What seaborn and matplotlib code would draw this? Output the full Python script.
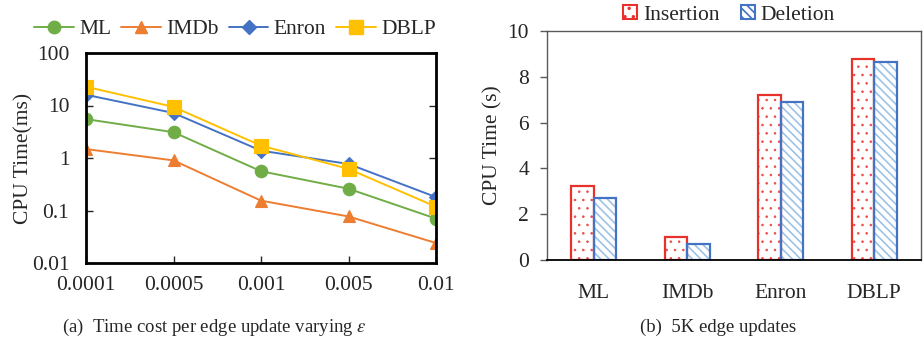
import numpy as np
import pandas as pd
import matplotlib
matplotlib.use("Agg")
import matplotlib.pyplot as plt
from matplotlib.patches import Patch
from matplotlib.lines import Line2D
import seaborn as sns

# ---- data ----
eps_labels = ["0.0001", "0.0005", "0.001", "0.005", "0.01"]
datasets = ["ML", "IMDb", "Enron", "DBLP"]
ml_ms = [5.5, 3.1, 0.56, 0.26, 0.07]
imdb_ms = [1.48, 0.9, 0.154, 0.077, 0.024]
enron_ms = [16.0, 7.2, 1.38, 0.77, 0.18]
dblp_ms = [22.8, 9.4, 1.72, 0.62, 0.118]

insertion_s = [3.21, 1.0, 7.21, 8.77]
deletion_s = [2.7, 0.72, 6.92, 8.66]
ops = ["Insertion", "Deletion"]

line_colors = ["#70AD47", "#ED7D31", "#4472C4", "#FFC000"]
markers = ["o", "^", "D", "s"]
msizes = [9, 9, 7, 9.5]

sns.set_theme(style="white")
plt.rcParams["font.family"] = ["Liberation Serif", "DejaVu Serif"]
plt.rcParams["mathtext.fontset"] = "stix"
FS = 15.5

fig = plt.figure(figsize=(9.23, 3.44), dpi=100)
ax1 = fig.add_axes([86 / 923, 1 - 263 / 344, 350 / 923, 210 / 344])
ax2 = fig.add_axes([547 / 923, 1 - 260 / 344, 374 / 923, 229 / 344])

# ---- left: line chart ----
series = [ml_ms, imdb_ms, enron_ms, dblp_ms]
df1 = pd.DataFrame({
    "eps": eps_labels * len(datasets),
    "time": np.concatenate(series),
    "dataset": np.repeat(datasets, len(eps_labels)),
})
sns.pointplot(data=df1, x="eps", y="time", hue="dataset", order=eps_labels,
              hue_order=datasets, palette=line_colors, markers=markers,
              linestyles="-", errorbar=None, dodge=False, ax=ax1,
              linewidth=1.4, legend=False)
for ln, ms in zip(ax1.lines, msizes):
    ln.set_markersize(ms)
    ln.set_markeredgewidth(0.8)
ax1.set_yscale("log")
ax1.set_ylim(0.01, 100)
ax1.set_xlim(0, len(eps_labels) - 1)
ax1.set_yticks([0.01, 0.1, 1, 10, 100])
ax1.set_yticklabels(["0.01", "0.1", "1", "10", "100"])
ax1.yaxis.set_minor_locator(matplotlib.ticker.NullLocator())
ax1.set_xlabel("")
ax1.set_ylabel("CPU Time(ms)", fontsize=FS)
ax1.yaxis.set_label_coords(-0.151, 0.5)
ax1.tick_params(axis="y", which="major", direction="in", left=True, right=True,
                length=5, width=1, labelsize=FS, pad=12)
ax1.tick_params(axis="x", direction="in", bottom=True, length=5, width=1,
                labelsize=FS, pad=9)
for s in ax1.spines.values():
    s.set_color("black")
    s.set_linewidth(2)

handles1 = [Line2D([0], [0], color=c, marker=m, markersize=ms, lw=1.4)
            for c, m, ms in zip(line_colors, markers, msizes)]
fig.legend(handles1, datasets, loc="center", bbox_to_anchor=(235 / 923, 1 - 29 / 344),
           ncol=4, frameon=False, fontsize=FS, handlelength=1.85, handletextpad=0.25,
           columnspacing=0.45, borderpad=0, borderaxespad=0)

# ---- right: bar chart ----
df2 = pd.DataFrame({
    "dataset": datasets * 2,
    "time": insertion_s + deletion_s,
    "op": np.repeat(ops, len(datasets)),
})
edge_cols = ["#E8312B", "#4472C4"]
hatch_cols = ["#EE4B45", "#9DC3E6"]
hatches = ["..", "\\\\\\\\"]
hatch_lws = [0.6, 1.2]

plt.rcParams["hatch.linewidth"] = 1.2
sns.barplot(data=df2, x="dataset", y="time", hue="op", order=datasets, hue_order=ops,
            palette=hatch_cols, width=0.485, errorbar=None, ax=ax2, legend=False,
            saturation=1)
n = len(datasets)
for i, p in enumerate(ax2.patches[: 2 * n]):
    k = i // n
    p.set_facecolor("white")
    p.set_edgecolor(hatch_cols[k])
    p.set_hatch(hatches[k])
    p.set_linewidth(0)
    if hasattr(p, "set_hatch_linewidth"):
        p.set_hatch_linewidth(hatch_lws[k])
sns.barplot(data=df2, x="dataset", y="time", hue="op", order=datasets, hue_order=ops,
            palette=edge_cols, width=0.485, errorbar=None, ax=ax2, legend=False,
            fill=False, linewidth=1.6, saturation=1)
ax2.set_ylim(0, 10)
ax2.set_xlim(-0.5, n - 0.5)
ax2.set_yticks([0, 2, 4, 6, 8, 10])
ax2.set_xlabel("")
ax2.set_ylabel("CPU Time (s)", fontsize=FS)
ax2.yaxis.set_label_coords(-0.120, 0.5)
ax2.tick_params(axis="y", direction="out", left=True, length=5, width=1,
                color="#595959", labelsize=FS, pad=8)
ax2.tick_params(axis="x", bottom=False, labelsize=FS, pad=11)
for name, s in ax2.spines.items():
    s.set_color("#595959")
    s.set_linewidth(1)
ax2.spines["bottom"].set_color("black")
ax2.spines["bottom"].set_linewidth(1.3)

handles2 = [Patch(facecolor="white", edgecolor=edge_cols[0], hatch="..", lw=1.5),
            Patch(facecolor="white", edgecolor=edge_cols[1], hatch="\\\\\\\\", lw=1.5)]
fig.legend(handles2, ops, loc="center", bbox_to_anchor=(729 / 923, 1 - 15 / 344),
           ncol=2, frameon=False, fontsize=FS, handlelength=0.65, handleheight=0.65,
           handletextpad=0.25, columnspacing=1.0, borderpad=0, borderaxespad=0)

# ---- captions ----
fig.text(214 / 923, 1 - 327 / 344, r"(a)  Time cost per edge update varying $\varepsilon$",
         ha="center", va="center", fontsize=13.5)
fig.text(718 / 923, 1 - 327 / 344, "(b)  5K edge updates",
         ha="center", va="center", fontsize=13.5)

fig.savefig("out.png", dpi=100)
